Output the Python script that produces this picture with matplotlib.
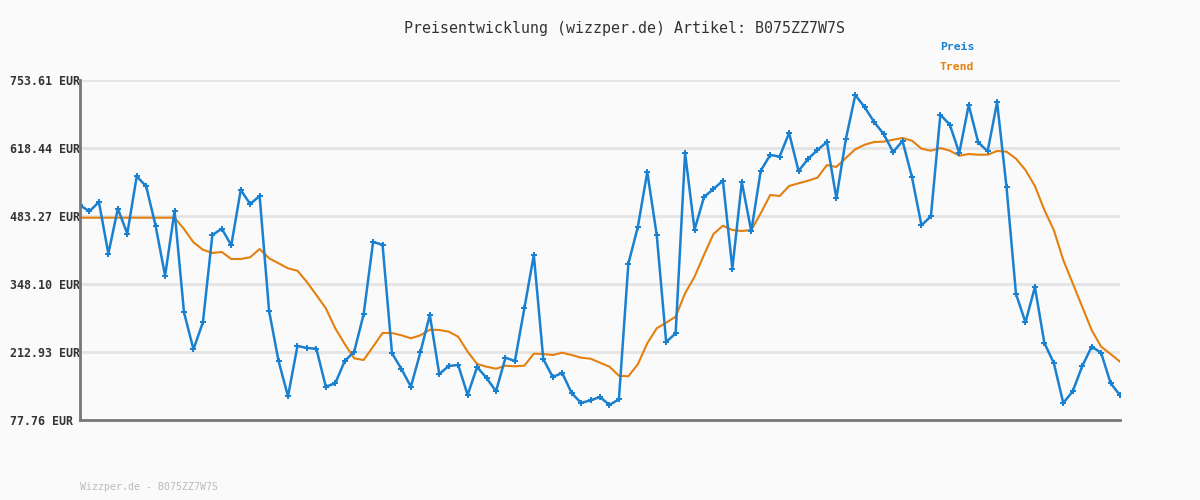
import matplotlib
matplotlib.use("Agg")
import matplotlib.pyplot as plt
import numpy as np

# price history (EUR), one value per sample
preis = [504.5, 492.6, 511.1, 408.3, 497.8, 448.1, 562.2, 542.3, 463.4, 364.6,
         493.2, 291.9, 218.3, 272.0, 445.5, 458.0, 425.0, 535.0, 507.1, 523.0,
         294.4, 195.0, 124.9, 224.9, 220.9, 219.5, 144.0, 150.7, 195.0, 213.5,
         287.9, 431.6, 426.2, 210.4, 179.1, 144.0, 212.3, 286.5, 169.2, 185.1,
         187.1, 127.5, 183.1, 161.3, 134.8, 201.6, 195.0, 299.8, 405.8, 199.0,
         163.2, 171.2, 131.4, 111.6, 116.9, 123.5, 107.6, 118.9, 388.5, 461.4,
         570.7, 445.5, 232.8, 250.1, 608.5, 456.0, 521.0, 536.9, 553.4, 378.5,
         550.9, 452.9, 573.3, 604.5, 601.5, 648.3, 572.7, 596.6, 614.5, 630.4,
         518.5, 635.7, 723.8, 699.3, 670.1, 646.3, 610.5, 632.4, 560.2, 464.8,
         482.7, 684.6, 664.8, 608.5, 703.9, 629.8, 611.9, 709.3, 540.3, 328.2,
         272.0, 342.1, 230.8, 191.1, 111.6, 134.8, 184.5, 223.5, 211.5, 151.3,
         126.9]

trend = [479.9, 479.9, 479.9, 479.9, 479.9, 479.9, 479.9, 479.9, 479.9, 479.9,
         479.9, 457.4, 431.0, 416.3, 409.7, 411.7, 397.8, 397.8, 401.2, 417.7,
         399.2, 389.3, 379.3, 374.5, 352.1, 326.2, 299.8, 260.0, 228.8, 200.4,
         197.0, 223.5, 250.7, 250.7, 246.1, 240.2, 246.1, 257.3, 256.7, 253.3,
         243.3, 213.5, 189.1, 183.7, 179.7, 185.7, 184.5, 185.7, 209.6, 209.0,
         207.0, 211.5, 207.0, 201.6, 199.6, 191.7, 183.7, 165.8, 164.6, 188.5,
         230.2, 260.0, 271.2, 283.1, 329.6, 362.6, 405.8, 447.5, 464.0, 455.4,
         453.4, 455.4, 488.6, 525.0, 523.0, 542.9, 548.3, 553.4, 559.4, 584.6,
         580.7, 598.6, 615.9, 625.0, 630.4, 631.0, 634.9, 638.3, 633.0, 617.1,
         613.1, 618.4, 613.1, 603.1, 606.5, 605.1, 605.1, 612.5, 611.1, 597.2,
         574.7, 542.9, 495.2, 455.4, 395.8, 349.5, 303.0, 256.7, 223.5, 209.0,
         193.7]

y_ticks = [77.76, 212.93, 348.10, 483.27, 618.44, 753.61]
titel = "Preisentwicklung (wizzper.de) Artikel: B075ZZ7W7S"
footer = "Wizzper.de - B075ZZ7W7S"

blue = "#1a80d0"
orange = "#e3800f"
bg = "#fafafa"
mono = "DejaVu Sans Mono"

fig = plt.figure(figsize=(12, 5), dpi=100, facecolor=bg)
ax = fig.add_axes([80 / 1200, 0.16, 1040 / 1200, 0.68], facecolor=bg)

x = np.arange(len(preis))
ax.plot(x, trend, color=orange, lw=1.5, zorder=3)
ax.plot(x, preis, color=blue, lw=1.8, marker="P", markersize=4.5,
        markeredgewidth=0, zorder=4)

ax.set_xlim(0, len(preis) - 1)
ax.set_ylim(y_ticks[0], y_ticks[-1])
ax.set_yticks(y_ticks)
ax.set_yticklabels(["%.2f EUR" % v for v in y_ticks], family=mono,
                   fontsize=8.4, fontweight="bold", color="#333333", ha="left")
ax.tick_params(axis="y", length=0, pad=50.4)
ax.set_xticks([])
ax.grid(axis="y", color="#e4e4e4", lw=2, zorder=0)
for s in ["top", "right"]:
    ax.spines[s].set_visible(False)
for s in ["left", "bottom"]:
    ax.spines[s].set_color("#777777")
    ax.spines[s].set_linewidth(2)
    ax.spines[s].set_zorder(5)

fig.text(624 / 1200, 1 - 28 / 500, titel, family=mono, fontsize=10.8,
         color="#333333", ha="center", va="center")
fig.text(940 / 1200, 1 - 47 / 500, "Preis", family=mono, fontsize=8.2,
         fontweight="bold", color=blue, ha="left", va="center")
fig.text(940 / 1200, 1 - 67 / 500, "Trend", family=mono, fontsize=8.2,
         fontweight="bold", color=orange, ha="left", va="center")
fig.text(80 / 1200, 1 - 487 / 500, footer, family=mono, fontsize=7.1,
         color="#bbbbbb", ha="left", va="center")

fig.savefig("out.png", dpi=100, facecolor=bg)
